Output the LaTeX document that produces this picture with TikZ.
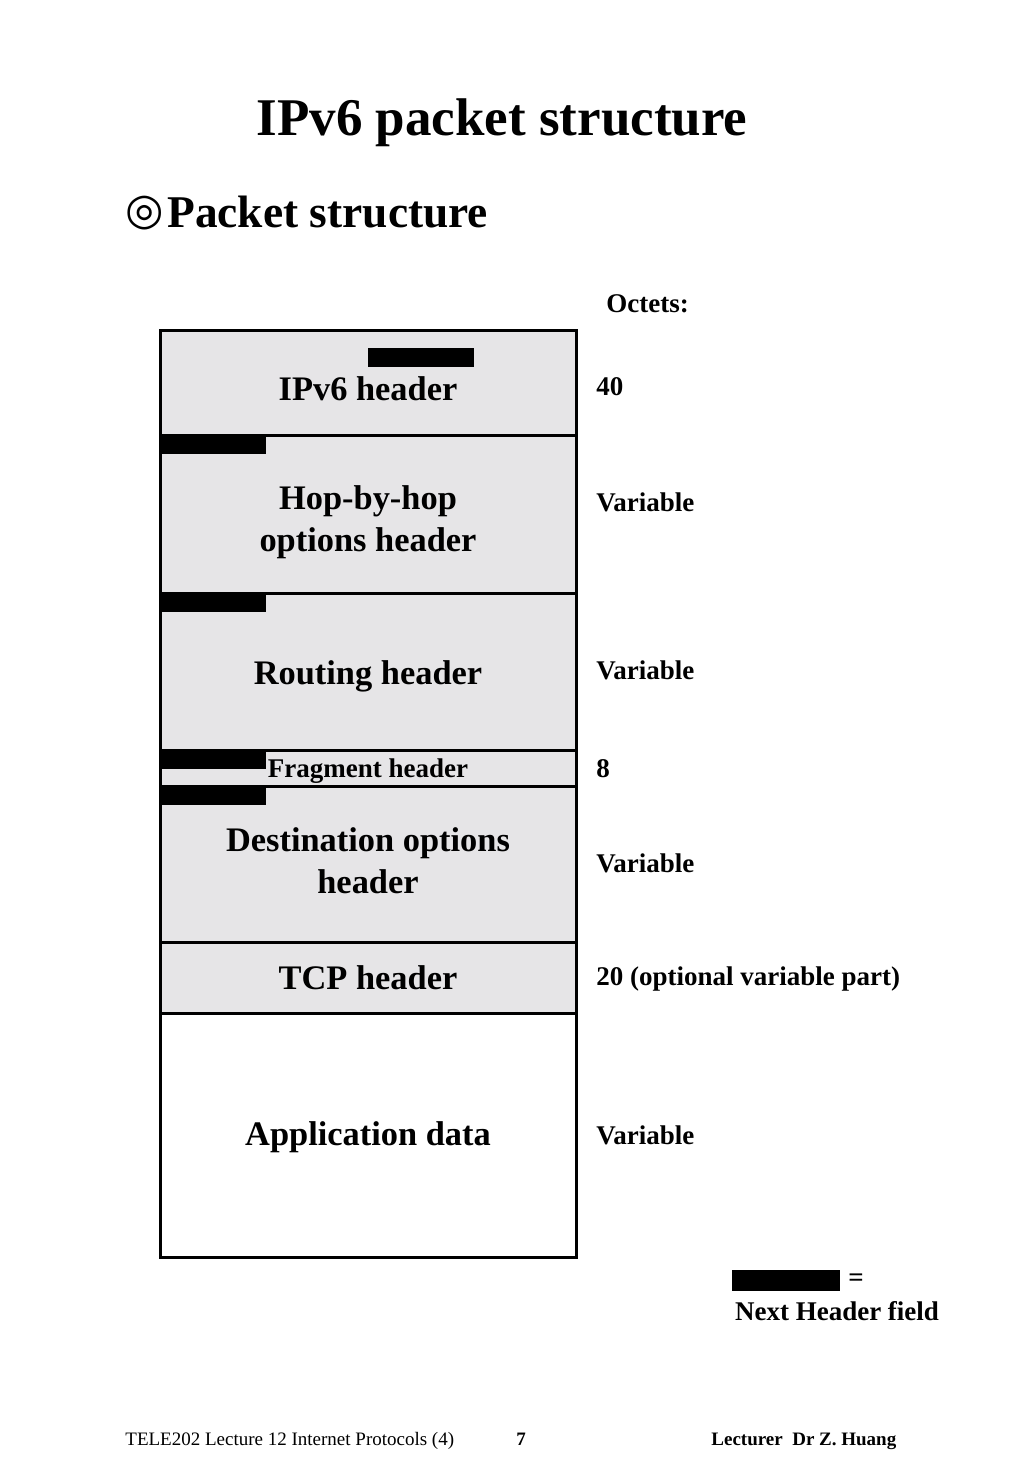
\documentclass[tikz,border=0pt]{standalone}
\usepackage{fontspec}
\setmainfont{Liberation Serif}
\newfontfamily\symfont{DejaVu Sans}
\usepackage{tikz}
\usetikzlibrary{positioning}
\definecolor{boxgray}{RGB}{230, 229, 231}
\tikzset{
  hdr/.style={draw, line width=1.5pt, fill=boxgray, minimum width=208pt,
    inner sep=0pt, outer sep=0pt},
  hdrtxt/.style={inner sep=0pt, align=center,
    font=\bfseries\fontsize{17.2}{21}\selectfont},
  nhbar/.style={fill=black, minimum width=53pt, minimum height=9.5pt,
    inner sep=0pt, outer sep=0pt},
  octet/.style={anchor=base west, inner sep=0pt,
    font=\bfseries\fontsize{13.5}{16}\selectfont},
  foot/.style={anchor=base west, inner sep=0pt,
    font=\fontsize{9.5}{11}\selectfont}
}

\begin{document}
\begin{tikzpicture}[x=0.5pt, y=-0.5pt]
  \useasboundingbox (0,0) rectangle (1024,1478);

  % Headings
  \node[anchor=base, inner sep=0pt, font=\bfseries\fontsize{26.5}{30}\selectfont] (title) at (502,135) {IPv6 packet structure};
  \node[anchor=base west, inner sep=0pt, font=\bfseries\fontsize{22.7}{26}\selectfont] (sub) at (167,227) {Packet structure};
  \node[inner sep=0pt, font=\symfont\bfseries\fontsize{22}{24}\selectfont] (bullet) at (144.5,213) {◎};

  % Packet sections
  \node[hdr, minimum height=52.5pt] (ipv6) at (368,382.5) {};
  \node[hdr, minimum height=79pt, below=0pt of ipv6] (hop) {};
  \node[hdr, minimum height=78.5pt, below=0pt of hop] (routing) {};
  \node[hdr, minimum height=18pt, below=0pt of routing] (frag) {};
  \node[hdr, minimum height=78pt, below=0pt of frag] (dest) {};
  \node[hdr, minimum height=35.5pt, below=0pt of dest] (tcp) {};
  \node[hdr, minimum height=122pt, below=0pt of tcp, fill=white] (app) {};

  % Section names
  \node[hdrtxt] (ipv6txt) at ([yshift=-3pt]ipv6.center) {IPv6 header};
  \node[hdrtxt] (hoptxt) at ([yshift=-4pt]hop.center) {Hop-by-hop\\options header};
  \node[hdrtxt] (routingtxt) at ([yshift=-2.5pt]routing.center) {Routing header};
  \node[hdrtxt, font=\bfseries\fontsize{13.5}{16}\selectfont] (fragtxt) at ([yshift=-1.5pt]frag.center) {Fragment header};
  \node[hdrtxt] (desttxt) at ([yshift=1.5pt]dest.center) {Destination options\\header};
  \node[hdrtxt] (tcptxt) at (tcp.center) {TCP header};
  \node[hdrtxt] (apptxt) at ([yshift=-1pt]app.center) {Application data};

  % Next Header fields
  \node[nhbar] (nh1) at (420.5,357) {};
  \node[nhbar, anchor=north west] (nh2) at (hop.north west) {};
  \node[nhbar, anchor=north west] (nh3) at (routing.north west) {};
  \node[nhbar, anchor=north west] (nh4) at (frag.north west) {};
  \node[nhbar, anchor=north west] (nh5) at (dest.north west) {};

  % Octets
  \node[octet] (oct) at (606,312) {Octets:};
  \node[octet] (o1) at (596,395) {40};
  \node[octet] (o2) at (596,511) {Variable};
  \node[octet] (o3) at (596,679) {Variable};
  \node[octet] (o4) at (596,777) {8};
  \node[octet] (o5) at (596,872) {Variable};
  \node[octet] (o6) at (596,985) {20 (optional variable part)};
  \node[octet] (o7) at (596,1144) {Variable};

  % Legend
  \node[nhbar, minimum width=54pt, minimum height=10.5pt] (legbar) at (786,1280.5) {};
  \node[right=4pt of legbar, inner sep=0pt, font=\bfseries\fontsize{13.5}{16}\selectfont] (legeq) {=};
  \node[octet, anchor=base] (legtxt) at (837,1320) {Next Header field};

  % Footer
  \node[foot] (f1) at (125,1445) {TELE202 Lecture 12 Internet Protocols (4)};
  \node[foot, font=\bfseries\fontsize{9.5}{11}\selectfont] (f2) at (516,1445) {7};
  \node[foot, font=\bfseries\fontsize{9.5}{11}\selectfont] (f3) at (711,1445) {Lecturer\ \ Dr Z. Huang};
\end{tikzpicture}
\end{document}
